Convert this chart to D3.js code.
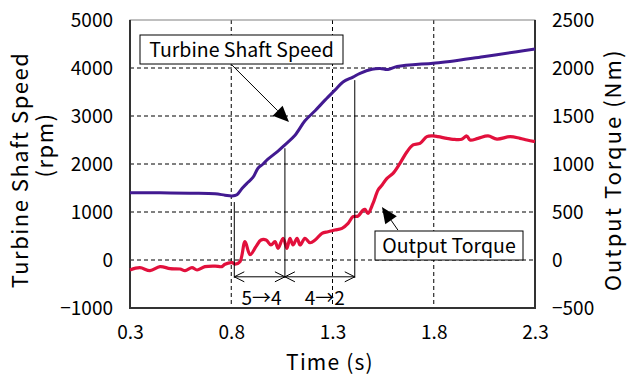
<!DOCTYPE html>
<html>
<head>
<meta charset="utf-8">
<script src="https://cdn.jsdelivr.net/npm/d3@7"></script>
<style>
  body { margin: 0; background: #fff; }
  text { font-family: "Noto Sans CJK JP", "Noto Sans", sans-serif; fill: #000; }
</style>
</head>
<body>
<div id="chart"></div>
<script>
// time ticks and axis ranges
const timeTicks = [0.3, 0.8, 1.3, 1.8, 2.3];
const speedTicks = [-1000, 0, 1000, 2000, 3000, 4000, 5000];
const torqueTicks = [-500, 0, 500, 1000, 1500, 2000, 2500];

// turbine shaft speed (rpm)
const speedTime = [0.3, 0.448, 0.596, 0.72, 0.769, 0.804, 0.828, 0.853, 0.883, 0.907, 0.932, 0.957,
    0.981, 1.031, 1.065, 1.115, 1.164, 1.214, 1.263, 1.312, 1.352, 1.401, 1.436, 1.495, 1.535,
    1.574, 1.619, 1.796, 1.88, 2.043, 2.211, 2.3];
const speedRpm = [1400, 1400, 1390, 1380, 1350, 1335, 1360, 1490, 1620, 1720, 1910, 2000,
    2100, 2270, 2400, 2600, 2900, 3110, 3330, 3540, 3710, 3810, 3890, 3975, 3990,
    3970, 4030, 4100, 4135, 4235, 4340, 4395];

// output torque (Nm)
const torqueTime = [0.3, 0.349, 0.399, 0.448, 0.498, 0.547, 0.572, 0.606, 0.631, 0.67, 0.72, 0.754,
    0.769, 0.804, 0.819, 0.843, 0.868, 0.893, 0.922, 0.947, 0.972, 0.996, 1.016, 1.031, 1.056,
    1.075, 1.09, 1.105, 1.125, 1.14, 1.164, 1.189, 1.214, 1.248, 1.278, 1.312, 1.347, 1.377,
    1.401, 1.426, 1.451, 1.46, 1.475, 1.5, 1.525, 1.545, 1.569, 1.599, 1.633, 1.668, 1.698,
    1.732, 1.766, 1.796, 1.821, 1.865, 1.895, 1.938, 1.963, 1.979, 2.019, 2.068, 2.112, 2.177,
    2.226, 2.26, 2.3];
const torqueNm = [-104, -80, -111, -69, -90, -94, -111, -80, -104, -69, -63, -69,
    -45, -28, -42, -17, 191, 55, 139, 208, 208, 156, 191, 122, 226,
    122, 226, 156, 226, 156, 226, 180, 208, 278, 295, 312, 330, 382,
    451, 458, 521, 528, 486, 590, 729, 781, 851, 903, 1007, 1128, 1198,
    1215, 1285, 1292, 1285, 1267, 1257, 1257, 1292, 1250, 1267, 1292, 1260, 1285,
    1267, 1250, 1233];

// gear shift timing
const shiftTime = [0.815, 1.065, 1.41];
const shiftTop = [1270, 2390, 3810];
const shiftLabels = ["5\u21924", "4\u21922"];

const width = 628, height = 375;
const margin = {top: 20, right: 93, bottom: 67, left: 130};
const W = width - margin.left - margin.right;
const H = height - margin.top - margin.bottom;

const svg = d3.select("#chart").append("svg")
    .attr("width", width)
    .attr("height", height);

const g = svg.append("g").attr("transform", `translate(${margin.left},${margin.top})`);

const x = d3.scaleLinear().domain([0.3, 2.3]).range([0, W]);
const ySpeed = d3.scaleLinear().domain([-1000, 5000]).range([H, 0]);
const yTorque = d3.scaleLinear().domain([-500, 2500]).range([H, 0]);

// grid
g.append("g").selectAll("line")
    .data(speedTicks.filter(d => d > -1000 && d < 5000))
    .join("line")
    .attr("x1", 0).attr("x2", W)
    .attr("y1", d => ySpeed(d)).attr("y2", d => ySpeed(d))
    .attr("stroke", "#000").attr("stroke-width", 1).attr("stroke-dasharray", "4,3");
g.append("g").selectAll("line")
    .data(timeTicks.slice(1, -1))
    .join("line")
    .attr("y1", 0).attr("y2", H)
    .attr("x1", d => x(d)).attr("x2", d => x(d))
    .attr("stroke", "#000").attr("stroke-width", 1).attr("stroke-dasharray", "4,3");

// frame
g.append("rect").attr("width", W).attr("height", H)
    .attr("fill", "none").attr("stroke", "#808080").attr("stroke-width", 1);
g.append("path")
    .attr("d", `M0,0V${H}H${W}V0`)
    .attr("fill", "none").attr("stroke", "#333").attr("stroke-width", 2);

// axes
const fs = 19;
const minus = d => d < 0 ? "\u2212" + Math.abs(d) : d;
const axisBottom = d3.axisBottom(x).tickValues(timeTicks).tickSize(0).tickPadding(18).tickFormat(d3.format(".1f"));
const axisLeft = d3.axisLeft(ySpeed).tickValues(speedTicks).tickSize(0).tickPadding(17).tickFormat(minus);
const axisRight = d3.axisRight(yTorque).tickValues(torqueTicks).tickSize(0).tickPadding(17).tickFormat(minus);

function styleAxis(sel) {
    sel.select(".domain").remove();
    sel.selectAll("text").attr("font-size", fs).style("font-family", "'Noto Sans CJK JP', sans-serif");
}
g.append("g").attr("transform", `translate(0,${H})`).call(axisBottom).call(styleAxis);
g.append("g").call(axisLeft).call(styleAxis);
g.append("g").attr("transform", `translate(${W},0)`).call(axisRight).call(styleAxis);

// series
const speedLine = d3.line().curve(d3.curveCatmullRom)
    .x((d, i) => x(speedTime[i])).y(d => ySpeed(d));
const torqueLine = d3.line().curve(d3.curveCatmullRom)
    .x((d, i) => x(torqueTime[i])).y(d => yTorque(d));

g.append("path").datum(speedRpm).attr("d", speedLine)
    .attr("fill", "none").attr("stroke", "#421a91").attr("stroke-width", 3).attr("stroke-linejoin", "round");
g.append("path").datum(torqueNm).attr("d", torqueLine)
    .attr("fill", "none").attr("stroke", "#e2103c").attr("stroke-width", 3.2).attr("stroke-linejoin", "round");

// shift markers
const arrowY = ySpeed(-350);
g.append("g").selectAll("line")
    .data(shiftTime)
    .join("line")
    .attr("x1", d => x(d)).attr("x2", d => x(d))
    .attr("y1", (d, i) => ySpeed(shiftTop[i]) + 3).attr("y2", arrowY + 1)
    .attr("stroke", "#000").attr("stroke-width", 1);

const ah = 10, aw = 5;
shiftLabels.forEach((lab, i) => {
    const x0 = x(shiftTime[i]), x1 = x(shiftTime[i + 1]);
    g.append("line").attr("x1", x0).attr("x2", x1).attr("y1", arrowY).attr("y2", arrowY)
        .attr("stroke", "#000").attr("stroke-width", 1);
    g.append("path")
        .attr("d", `M${x0 + ah},${arrowY - aw}L${x0},${arrowY}L${x0 + ah},${arrowY + aw}` +
            `M${x1 - ah},${arrowY - aw}L${x1},${arrowY}L${x1 - ah},${arrowY + aw}`)
        .attr("fill", "none").attr("stroke", "#000").attr("stroke-width", 1);
    g.append("text")
        .attr("x", (x0 + x1) / 2 + (i === 1 ? 5 : 2)).attr("y", arrowY + 28)
        .attr("text-anchor", "middle").attr("font-size", fs)
        .text(lab);
});

// callouts
function callout(label, bx, by, bw, bh, fromX, fromY, toX, toY) {
    const dx = toX - fromX, dy = toY - fromY, len = Math.hypot(dx, dy);
    const ux = dx / len, uy = dy / len, hl = 16, hw = 7;
    const bxp = toX - ux * hl, byp = toY - uy * hl;
    g.append("line").attr("x1", fromX).attr("y1", fromY).attr("x2", bxp).attr("y2", byp)
        .attr("stroke", "#000").attr("stroke-width", 1);
    g.append("path")
        .attr("d", `M${toX},${toY}L${bxp - uy * hw},${byp + ux * hw}L${bxp + uy * hw},${byp - ux * hw}Z`)
        .attr("fill", "#000");
    g.append("rect").attr("x", bx).attr("y", by).attr("width", bw).attr("height", bh)
        .attr("fill", "#fff").attr("stroke", "#000").attr("stroke-width", 1);
    g.append("text").attr("x", bx + bw / 2).attr("y", by + bh / 2 + 7)
        .attr("text-anchor", "middle").attr("font-size", 19.5).text(label);
}
callout("Turbine Shaft Speed", 10, 15, 203, 29,
    x(0.804), ySpeed(4060), x(1.085), ySpeed(2875));
callout("Output Torque", 245, 211, 148, 29,
    x(1.623), yTorque(312), x(1.544), yTorque(552));

// axis titles
const tfs = 22;
svg.append("text").attr("x", 330).attr("y", 370)
    .attr("text-anchor", "middle").attr("font-size", 21).attr("letter-spacing", 1.2).text("Time (s)");
svg.append("text").attr("transform", "translate(28,170) rotate(-90)")
    .attr("text-anchor", "middle").attr("font-size", tfs).attr("letter-spacing", 1.5).text("Turbine Shaft Speed");
svg.append("text").attr("transform", "translate(53,145) rotate(-90)")
    .attr("text-anchor", "middle").attr("font-size", tfs).attr("letter-spacing", 1.5).text("(rpm)");
svg.append("text").attr("transform", "translate(621,170) rotate(-90)")
    .attr("text-anchor", "middle").attr("font-size", tfs).attr("letter-spacing", 2).text("Output Torque (Nm)");
</script>
</body>
</html>
